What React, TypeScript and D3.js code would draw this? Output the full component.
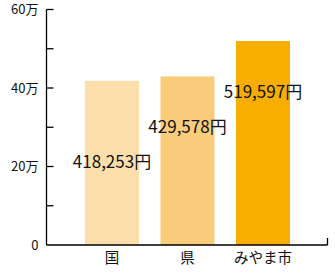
import React from "react";
import * as d3 from "d3";

const categories = ["国", "県", "みやま市"];
const values = [418253, 429578, 519597];
const valueLabels = ["418,253円", "429,578円", "519,597円"];
const labelBaselines = [197000, 286000, 375000];
const barColors = ["#FCDFAA", "#F9CC7C", "#F7AE00"];
const yTicks = [0, 100000, 200000, 300000, 400000, 500000, 600000];
const yTickLabels: Record<number, string> = { 0: "0", 200000: "20万", 400000: "40万", 600000: "60万" };

const W = 335;
const H = 275;
const axisX = 46.5;
const axisY = 245;
const topY = 9.5;
const rightX = 327.5;

export default function App() {
  const y = d3.scaleLinear().domain([0, 600000]).range([axisY, topY]);
  const x = d3.scaleBand<string>().domain(categories).range([63.5, 311.5]).paddingInner(0.285).paddingOuter(0.285);
  const font = "'Noto Sans CJK JP', 'Noto Sans', sans-serif";
  return (
    <svg width={W} height={H} style={{ position: "absolute", left: 0, top: 0 }} fontFamily={font}>
      <rect width={W} height={H} fill="#fff" />
      {categories.map((c, i) => (
        <rect key={c} x={x(c)} y={y(values[i])} width={x.bandwidth()} height={axisY - y(values[i])} fill={barColors[i]} />
      ))}
      <line x1={axisX} x2={axisX} y1={topY} y2={axisY} stroke="#000" strokeWidth={1.3} />
      <line x1={axisX} x2={rightX} y1={axisY} y2={axisY} stroke="#000" strokeWidth={1.3} />
      <line x1={rightX} x2={rightX} y1={axisY - 7} y2={axisY} stroke="#000" strokeWidth={1.3} />
      {yTicks.map((t) => (
        <g key={t}>
          {t > 0 && <line x1={axisX} x2={axisX + 7} y1={y(t)} y2={y(t)} stroke="#000" strokeWidth={1.3} />}
          {yTickLabels[t] !== undefined && (
            <text x={38.5} y={y(t)} dy="0.36em" textAnchor="end" fontSize={13} fill="#111">
              {yTickLabels[t]}
            </text>
          )}
        </g>
      ))}
      {categories.map((c, i) => (
        <text key={c} x={(x(c) as number) + x.bandwidth() / 2} y={263} textAnchor="middle" fontSize={14.5} fill="#111">
          {c}
        </text>
      ))}
      {categories.map((c, i) => (
        <text key={"v" + c} x={(x(c) as number) + x.bandwidth() / 2} y={y(labelBaselines[i])} textAnchor="middle" fontSize={17} fill="#111">
          {valueLabels[i]}
        </text>
      ))}
    </svg>
  );
}
